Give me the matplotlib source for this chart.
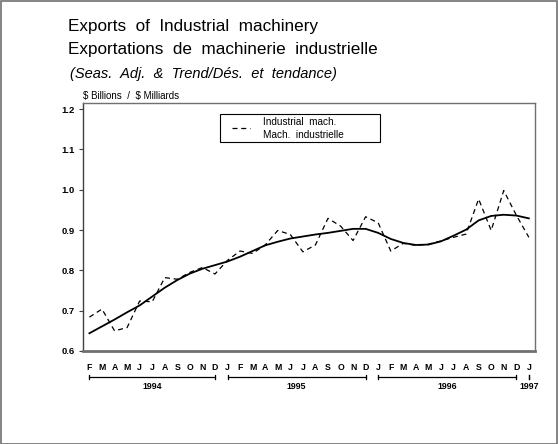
import matplotlib
matplotlib.use('Agg')
import matplotlib.pyplot as plt
import matplotlib.transforms as mtransforms
from matplotlib.patches import Rectangle
from matplotlib.lines import Line2D
import numpy as np

plt.rcParams['font.family'] = ['Liberation Sans', 'DejaVu Sans']

# monthly data, Feb 1994 .. Jan 1997
months = ['F', 'M', 'A', 'M', 'J', 'J', 'A', 'S', 'O', 'N', 'D',
          'J', 'F', 'M', 'A', 'M', 'J', 'J', 'A', 'S', 'O', 'N', 'D',
          'J', 'F', 'M', 'A', 'M', 'J', 'J', 'A', 'S', 'O', 'N', 'D',
          'J']
seas_adj = [0.684, 0.704, 0.650, 0.658, 0.724, 0.722, 0.782, 0.778, 0.795, 0.807, 0.791,
            0.825, 0.848, 0.842, 0.863, 0.899, 0.889, 0.846, 0.863, 0.929, 0.910, 0.874, 0.933,
            0.918, 0.848, 0.867, 0.862, 0.865, 0.873, 0.882, 0.890, 0.977, 0.899, 0.998, 0.937,
            0.882]
trend = [0.644, 0.661, 0.678, 0.696, 0.713, 0.735, 0.757, 0.776, 0.792, 0.804, 0.813,
         0.822, 0.834, 0.848, 0.862, 0.871, 0.879, 0.884, 0.889, 0.893, 0.898, 0.903, 0.903,
         0.893, 0.878, 0.868, 0.863, 0.864, 0.872, 0.886, 0.901, 0.924, 0.935, 0.938, 0.936,
         0.929]
years = ['1994', '1995', '1996', '1997']
year_spans = [(0, 10), (11, 22), (23, 34), (35, 35)]
yticks = [0.6, 0.7, 0.8, 0.9, 1.0, 1.1, 1.2]

W, H = 558, 444
fig = plt.figure(figsize=(W / 100, H / 100), dpi=100)
fig.patches.append(Rectangle((0.001, 0.001), 0.997, 0.997, transform=fig.transFigure,
                             fill=False, edgecolor='#707070', linewidth=1.2))

def fx(px):
    return px / W

def fy(py):
    return 1 - py / H

fig.text(fx(68), fy(31), 'Exports  of  Industrial  machinery', fontsize=12.3, va='baseline')
fig.text(fx(68), fy(54), 'Exportations  de  machinerie  industrielle', fontsize=12.3,
         va='baseline')
fig.text(fx(70), fy(78), '(Seas.  Adj.  &  Trend/Dés.  et  tendance)', fontsize=10.5,
         style='italic', va='baseline')
fig.text(fx(83), fy(96), r'\$ Billions  /  \$ Milliards', fontsize=7, va='center')

ax = fig.add_axes([0.149, 0.2095, 0.810, 0.5574])
x = np.arange(len(months))
ax.plot(x, seas_adj, color='black', linestyle=(0, (4, 3)), linewidth=0.9)
ax.plot(x, trend, color='black', linewidth=1.3)

ax.set_xlim(-0.5, 35.5)
ax.set_ylim(0.6, 1.214)
ax.set_yticks(yticks)
ax.set_yticklabels(['%.1f' % v for v in yticks], fontsize=6.8, fontweight='bold')
ax.tick_params(axis='y', length=3, width=0.8, pad=3, color='#404040')
ax.set_xticks(x)
ax.set_xticklabels(months, fontsize=6.3, fontweight='bold')
ax.tick_params(axis='x', length=0, pad=9)

for side in ['top', 'right']:
    ax.spines[side].set_color('#707070')
    ax.spines[side].set_linewidth(1.0)
ax.spines['left'].set_color('#404040')
ax.spines['left'].set_linewidth(1.0)
ax.spines['bottom'].set_color('#707070')
ax.spines['bottom'].set_linewidth(2.0)

# year brackets under month letters
trans = mtransforms.blended_transform_factory(ax.transData, ax.transAxes)
for name, (a, b) in zip(years, year_spans):
    if b > a:
        ax.plot([a, b], [-0.105, -0.105], color='black', linewidth=0.9,
                transform=trans, clip_on=False)
    for e in (a, b):
        ax.plot([e, e], [-0.096, -0.114], color='black', linewidth=0.9,
                transform=trans, clip_on=False)
    ax.text((a + b) / 2, -0.126, name, transform=trans, fontsize=6.3, fontweight='bold',
            ha='center', va='top')

# legend box (one entry, two-line label)
fig.patches.append(Rectangle((fx(220), fy(142.5)), fx(380) - fx(220), fy(114) - fy(142.5),
                             transform=fig.transFigure, fill=True, facecolor='white',
                             edgecolor='black', linewidth=0.8, zorder=5))
fig.lines.append(Line2D([fx(232), fx(250)], [fy(128), fy(128)], transform=fig.transFigure,
                        color='black', linestyle=(0, (4, 3)), linewidth=0.9, zorder=6))
fig.text(fx(263), fy(122), 'Industrial  mach.', fontsize=7.2, va='center', zorder=6)
fig.text(fx(263), fy(135), 'Mach.  industrielle', fontsize=7.2, va='center', zorder=6)

fig.savefig('out.png', dpi=100)
